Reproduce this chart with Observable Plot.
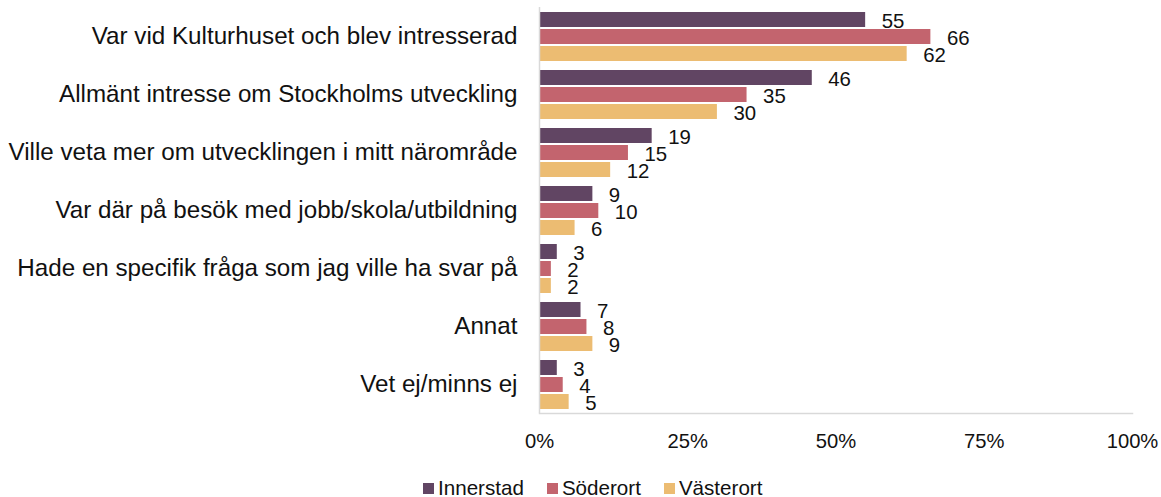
<!DOCTYPE html>
<html>
<head>
<meta charset="utf-8">
<script src="https://cdn.jsdelivr.net/npm/d3@7"></script>
<script src="https://cdn.jsdelivr.net/npm/@observablehq/plot@0.6"></script>
<style>
  html, body { margin: 0; padding: 0; background: #fff; }
  #chart svg { display: block; }
  .legend { display: flex; align-items: center; height: 20px; margin-top: 10px; padding-left: 423px;
            font-family: "Liberation Sans", Arial, sans-serif; font-size: 20.6px; color: #111; }
  .legend .item { display: flex; align-items: center; margin-right: 23px; }
  .legend .sw { width: 11px; height: 11px; margin-right: 4px; }
</style>
</head>
<body>
<div id="chart"></div>
<div class="legend" id="legend"></div>
<script>
const categories = [
  "Var vid Kulturhuset och blev intresserad",
  "Allmänt intresse om Stockholms utveckling",
  "Ville veta mer om utvecklingen i mitt närområde",
  "Var där på besök med jobb/skola/utbildning",
  "Hade en specifik fråga som jag ville ha svar på",
  "Annat",
  "Vet ej/minns ej"
];
const series = ["Innerstad", "Söderort", "Västerort"];
const colors = ["#614563", "#c3646e", "#ecbc72"];
const innerstad = [55, 46, 19, 9, 3, 7, 3];
const soderort = [66, 35, 15, 10, 2, 8, 4];
const vasterort = [62, 30, 12, 6, 2, 9, 5];
const xTicks = [0, 25, 50, 75, 100];

const values = [innerstad, soderort, vasterort];
const data = [];
categories.forEach((c, i) => {
  series.forEach((s, j) => data.push({category: c, series: s, value: values[j][i]}));
});

const lineColor = "#d9d9d9";
const plot = Plot.plot({
  width: 1161,
  height: 468,
  marginLeft: 539,
  marginRight: 29,
  marginTop: 6,
  marginBottom: 54,
  style: {fontFamily: "'Liberation Sans', Arial, sans-serif", fontSize: "20px", color: "#111"},
  x: {domain: [0, 100], ticks: xTicks, tickFormat: d => d + "%", label: null},
  y: {domain: series, paddingInner: 0.143, paddingOuter: 0.238, axis: null},
  fy: {domain: categories, padding: 0, label: null, axis: null},
  color: {domain: series, range: colors},
  marks: [
    Plot.barX(data, {x: "value", y: "series", fy: "category", fill: "series"}),
    Plot.text(data, {x: "value", y: "series", fy: "category", text: d => String(d.value),
      textAnchor: "start", dx: 16, dy: 1, fontSize: 20.4, fill: "#111"}),
    Plot.ruleX([0], {stroke: lineColor, strokeWidth: 1.5}),
    Plot.frame({anchor: "bottom", facetAnchor: "bottom", stroke: lineColor, strokeWidth: 1.5}),
    Plot.axisX({ticks: xTicks, tickFormat: d => d + "%", tickSize: 0, tickPadding: 20, fontSize: 20.2, label: null, fill: "#111"}),
    Plot.axisFy({anchor: "left", tickSize: 0, tickPadding: 22, fontSize: 24.2, label: null, fill: "#111"})
  ]
});
document.getElementById("chart").appendChild(plot);

const legend = document.getElementById("legend");
series.forEach((s, i) => {
  const item = document.createElement("div");
  item.className = "item";
  const sw = document.createElement("div");
  sw.className = "sw";
  sw.style.background = colors[i];
  const t = document.createElement("span");
  t.textContent = s;
  item.appendChild(sw);
  item.appendChild(t);
  legend.appendChild(item);
});
</script>
</body>
</html>
